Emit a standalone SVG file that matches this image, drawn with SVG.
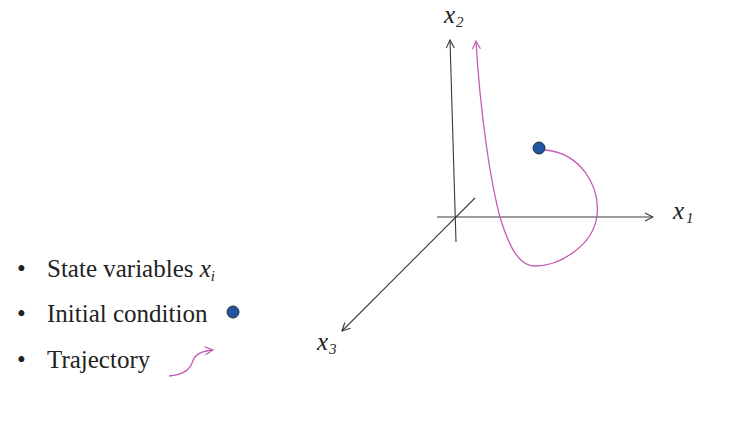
<svg xmlns="http://www.w3.org/2000/svg" width="739" height="427" viewBox="0 0 739 427">
<style>
.axis{stroke:#3a3a3a;stroke-width:1.1;fill:none}
.traj{stroke:#c45cb4;stroke-width:1.3;fill:none}
.lbl{font-style:italic;font-size:25px;fill:#222}
.sub{font-style:italic;font-size:15px;fill:#222}
.txt{font-size:25px;fill:#222}
.dot{fill:#2353a3;stroke:#2a2a3a;stroke-width:1}
</style>
<defs>
<marker id="ah" viewBox="0 0 10 10" refX="9" refY="5" markerWidth="10" markerHeight="10" markerUnits="userSpaceOnUse" orient="auto">
<path d="M1,1 L9,5 L1,9" fill="none" stroke="#3a3a3a" stroke-width="1.1"/>
</marker>
<marker id="ahm" viewBox="0 0 10 10" refX="9" refY="5" markerWidth="10" markerHeight="10" markerUnits="userSpaceOnUse" orient="auto">
<path d="M1,1 L9,5 L1,9" fill="none" stroke="#c45cb4" stroke-width="1.2"/>
</marker>
</defs>
<g id="connectors">
<line class="axis" x1="456" y1="242" x2="450" y2="40" marker-end="url(#ah)"/>
<line class="axis" x1="437" y1="217" x2="653" y2="217" marker-end="url(#ah)"/>
<line class="axis" x1="475" y1="198" x2="342" y2="331" marker-end="url(#ah)"/>
<path id="trajectory" class="traj" d="M545,150 C580,153 600,185 597,215 C594,245 560,266 535,266 C520,266 510,250 500,217 C490,180 480,110 476,41" marker-end="url(#ahm)"/>
</g>
<g font-family="Liberation Serif, serif">
<g id="label-x2"><text class="lbl" x="444" y="23">x</text><text class="sub" x="456" y="27">2</text></g>
<g id="label-x1"><text class="lbl" x="673" y="219">x</text><text class="sub" x="686" y="223">1</text></g>
<g id="label-x3"><text class="lbl" x="317" y="350">x</text><text class="sub" x="329" y="354">3</text></g>
</g>
<g id="initial-point"><circle class="dot" cx="539" cy="148" r="6"/></g>
<g id="legend" font-family="Liberation Serif, serif">
<text class="txt" x="17" y="277">•</text>
<text class="txt" x="47" y="277">State variables <tspan font-style="italic">x</tspan><tspan font-style="italic" font-size="15" dy="4">i</tspan></text>
<text class="txt" x="17" y="322">•</text>
<text class="txt" x="47" y="322">Initial condition</text>
<circle class="dot" cx="233" cy="312" r="6"/>
<text class="txt" x="17" y="368">•</text>
<text class="txt" x="47" y="368">Trajectory</text>
<path class="traj" d="M169,376 C180,375 189,372 192,363 C195,353 203,351 213,350" marker-end="url(#ahm)"/>
</g>
</svg>
